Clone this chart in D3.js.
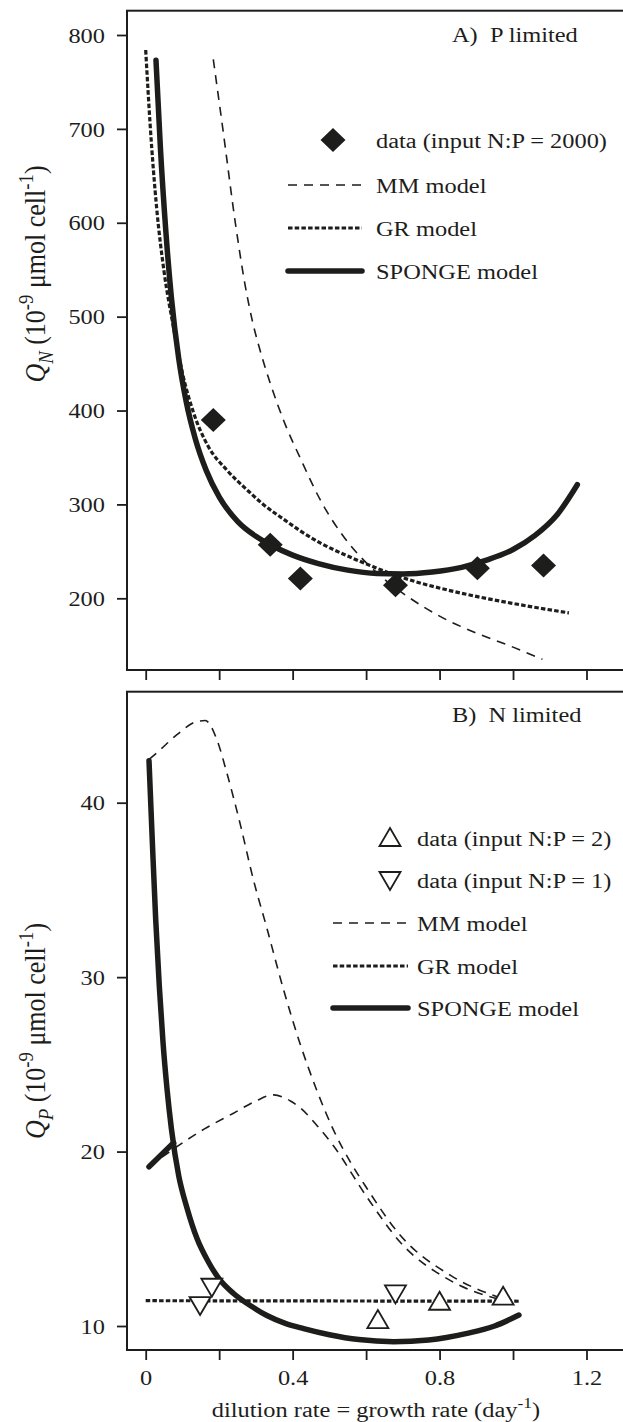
<!DOCTYPE html>
<html>
<head>
<meta charset="utf-8">
<script src="https://cdn.jsdelivr.net/npm/d3@7"></script>
<style>
  body { margin: 0; background: #fff; }
  text { font-family: "Liberation Serif", "Times New Roman", serif; fill: #1d1d1b; }
</style>
</head>
<body>
<div class="figure"></div>
<script>
// ---- data ----
var xTicks = [0, 0.2, 0.4, 0.6, 0.8, 1.0, 1.2];
var xTickLabels = ["0", "", "0.4", "", "0.8", "", "1.2"];
var yTicksA = [200, 300, 400, 500, 600, 700, 800];
var yTicksB = [10, 20, 30, 40];

// A) P limited : Q_N
var dataA_rate = [0.184, 0.339, 0.421, 0.680, 0.903, 1.083];
var dataA_QN   = [390, 257, 221, 214, 232, 235];

var mmA_rate = [0.184, 0.21, 0.244, 0.27, 0.29, 0.31, 0.34, 0.38, 0.42, 0.475, 0.54, 0.6, 0.66, 0.72, 0.8, 0.9, 1.0, 1.08];
var mmA_QN   = [774, 700, 600, 535, 496, 466, 428, 385, 350, 305, 265, 238, 217, 200, 181, 163, 148, 135];

var grA_rate = [0.0, 0.012, 0.03, 0.05, 0.075, 0.1, 0.13, 0.17, 0.22, 0.28, 0.32, 0.38, 0.42, 0.475, 0.55, 0.62, 0.68, 0.75, 0.82, 0.9, 1.0, 1.08, 1.152];
var grA_QN   = [784, 705, 615, 548, 490, 440, 398, 362, 337, 314, 300, 283, 272, 259, 245, 233.5, 224.5, 216, 209, 202, 194.5, 189, 184.5];

var spA_rate = [0.028, 0.04, 0.055, 0.07, 0.09, 0.11, 0.135, 0.165, 0.2, 0.25, 0.3, 0.339, 0.4, 0.47, 0.55, 0.63, 0.7, 0.78, 0.86, 0.93, 1.0, 1.06, 1.12, 1.175];
var spA_QN   = [773, 680, 590, 520, 455, 410, 370, 336, 308, 282, 266, 257, 246, 237, 230, 226.5, 226, 228, 233, 241, 252, 267, 289, 321];

// B) N limited : Q_P
var np2_rate = [0.632, 0.80, 0.973];
var np2_QP   = [10.34, 11.39, 11.68];
var np1_rate = [0.148, 0.18, 0.68];
var np1_QP   = [11.2, 12.25, 11.87];

var mmB1_rate = [0.01, 0.034, 0.085, 0.139, 0.162, 0.194, 0.221, 0.257, 0.293, 0.33, 0.375, 0.42, 0.466, 0.512, 0.56, 0.602, 0.693, 0.83, 0.966];
var mmB1_QP   = [42.5, 42.93, 43.9, 44.65, 44.71, 43.6, 41.7, 38.8, 35.6, 32.8, 29.3, 26.2, 23.5, 21.2, 19.3, 17.9, 15.2, 12.9, 11.6];
var mmB2_rate = [0.009, 0.085, 0.16, 0.239, 0.30, 0.348, 0.394, 0.421, 0.466, 0.512, 0.602, 0.693, 0.83, 0.966];
var mmB2_QP   = [19.13, 20.28, 21.3, 22.2, 22.9, 23.25, 22.9, 22.5, 21.5, 20.3, 17.4, 14.8, 12.6, 11.5];

var grB_rate = [0.0, 1.02];
var grB_QP   = [11.45, 11.42];

var spB1_rate = [0.009, 0.018, 0.027, 0.037, 0.047, 0.058, 0.07, 0.09, 0.112, 0.14, 0.17, 0.2, 0.24, 0.29, 0.33, 0.38, 0.43, 0.5, 0.58, 0.675, 0.77, 0.875, 0.95, 1.016];
var spB1_QP   = [42.4, 37.8, 33.4, 29.5, 26.3, 23.6, 21.3, 18.6, 16.8, 15.0, 13.7, 12.7, 11.85, 11.1, 10.6, 10.15, 9.85, 9.5, 9.22, 9.1, 9.2, 9.58, 10.0, 10.63];
var spB2_rate = [0.009, 0.076];
var spB2_QP   = [19.13, 20.5];

// ---- layout ----
var W = 623, H = 1422;
var ink = "#1d1d1b";
var SX = 1.13;              // the figure is a little wider than tall
var left = 127;

var svg = d3.select(".figure").append("svg")
  .attr("width", W)
  .attr("height", H);

var x = d3.scaleLinear().domain([0, 1.2]).range([145.7, 586.5]);
var yA = d3.scaleLinear().domain([200, 800]).range([598.3, 35]);
var yB = d3.scaleLinear().domain([10, 40]).range([1326, 802.7]);

var panels = [
  { y: yA, top: 10.7, bottom: 670, ticks: yTicksA, labels: false },
  { y: yB, top: 691.7, bottom: 1350, ticks: yTicksB, labels: true }
];

function stretch(px, py) {
  return "translate(" + px + "," + py + ") scale(" + SX + ",1)";
}

// rich text: parts with sub / sup / italic
function rich(g, parts, size) {
  var t = g.append("text").style("font-size", size + "px").style("white-space", "pre");
  var cur = 0;
  parts.forEach(function (p) {
    var off = p.sub ? 0.28 * size : p.sup ? -0.42 * size : 0;
    t.append("tspan")
      .attr("dy", off - cur)
      .style("font-size", (p.sub || p.sup ? 0.72 * size : size) + "px")
      .style("font-style", p.it ? "italic" : "normal")
      .text(p.s);
    cur = off;
  });
  return t;
}

panels.forEach(function (p) {
  var g = svg.append("g");

  // frame (right side falls outside the picture)
  g.append("rect")
    .attr("x", left).attr("y", p.top)
    .attr("width", W + 10 - left).attr("height", p.bottom - p.top)
    .attr("fill", "none").attr("stroke", ink).attr("stroke-width", 2);

  var yAxis = d3.axisLeft(p.y).tickValues(p.ticks).tickSize(10).tickSizeOuter(0);
  var ya = g.append("g").attr("transform", "translate(" + left + ",0)").call(yAxis);
  ya.select(".domain").remove();
  ya.selectAll("line").attr("stroke", ink).attr("stroke-width", 1.8);
  ya.selectAll("text")
    .attr("x", null).attr("dy", null)
    .attr("transform", stretch(-22, 7.2))
    .style("font-size", "21.6px").style("font-family", null);

  var xAxis = d3.axisBottom(x).tickValues(xTicks).tickSize(10).tickSizeOuter(0)
    .tickFormat(function (d, i) { return p.labels ? xTickLabels[i] : ""; });
  var xa = g.append("g").attr("transform", "translate(0," + p.bottom + ")").call(xAxis);
  xa.select(".domain").remove();
  xa.selectAll("line").attr("stroke", ink).attr("stroke-width", 1.8);
  xa.selectAll("text")
    .attr("y", null).attr("dy", null)
    .attr("transform", stretch(0, 35))
    .style("font-size", "21.6px").style("font-family", null);
});

function curve(yScale) {
  return d3.line()
    .x(function (d) { return x(d[0]); })
    .y(function (d) { return yScale(d[1]); })
    .curve(d3.curveMonotoneX);
}

var styles = {
  mm: { w: 1.6, dash: "9,7", cap: "butt" },
  gr: { w: 3.2, dash: "4.5,2.2", cap: "butt" },
  sp: { w: 5.5, dash: null, cap: "round" }
};

function drawLine(rates, vals, yScale, st) {
  svg.append("path")
    .datum(d3.zip(rates, vals))
    .attr("d", curve(yScale))
    .attr("fill", "none")
    .attr("stroke", ink)
    .attr("stroke-width", st.w)
    .attr("stroke-dasharray", st.dash)
    .attr("stroke-linecap", st.cap)
    .attr("stroke-linejoin", "round");
}

var diamond = "M0,-12L12.5,0L0,12L-12.5,0Z";
var triUp = "M0,-10L10.5,8L-10.5,8Z";
var triDown = "M0,10L10.5,-8L-10.5,-8Z";

// panel A curves
drawLine(mmA_rate, mmA_QN, yA, styles.mm);
drawLine(grA_rate, grA_QN, yA, styles.gr);
drawLine(spA_rate, spA_QN, yA, styles.sp);

svg.append("g").selectAll("path")
  .data(d3.zip(dataA_rate, dataA_QN))
  .join("path")
  .attr("d", diamond)
  .attr("transform", function (d) { return "translate(" + x(d[0]) + "," + yA(d[1]) + ")"; })
  .attr("fill", ink);

// panel B curves
drawLine(mmB1_rate, mmB1_QP, yB, styles.mm);
drawLine(mmB2_rate, mmB2_QP, yB, styles.mm);
drawLine(grB_rate, grB_QP, yB, styles.gr);
drawLine(spB1_rate, spB1_QP, yB, styles.sp);
drawLine(spB2_rate, spB2_QP, yB, styles.sp);

function openMarks(rates, vals, shape) {
  svg.append("g").selectAll("path")
    .data(d3.zip(rates, vals))
    .join("path")
    .attr("d", shape)
    .attr("transform", function (d) { return "translate(" + x(d[0]) + "," + yB(d[1]) + ")"; })
    .attr("fill", "#fff")
    .attr("stroke", ink)
    .attr("stroke-width", 1.8);
}
openMarks(np2_rate, np2_QP, triUp);
openMarks(np1_rate, np1_QP, triDown);

// ---- titles and legends ----
svg.append("text").attr("transform", stretch(452, 41.5)).style("font-size", "21.6px")
  .style("white-space", "pre").text("A)  P limited");
svg.append("text").attr("transform", stretch(452, 722)).style("font-size", "21.6px")
  .style("white-space", "pre").text("B)  N limited");

function legendLine(x0, x1, yy, st) {
  svg.append("line").attr("x1", x0).attr("x2", x1).attr("y1", yy).attr("y2", yy)
    .attr("stroke", ink).attr("stroke-width", st.w)
    .attr("stroke-dasharray", st.dash).attr("stroke-linecap", st.cap);
}
function legendText(tx, yy, s) {
  svg.append("text").attr("transform", stretch(tx, yy + 7.5)).style("font-size", "21.6px").text(s);
}

svg.append("path").attr("d", diamond).attr("transform", "translate(333,140)").attr("fill", ink);
legendText(376, 140, "data (input N:P = 2000)");
legendLine(288, 362, 185, styles.mm);  legendText(376, 185, "MM model");
legendLine(288, 362, 228, styles.gr);  legendText(376, 228, "GR model");
legendLine(288, 362, 271, styles.sp);  legendText(376, 271, "SPONGE model");

svg.append("path").attr("d", triUp).attr("transform", "translate(390,838)")
  .attr("fill", "#fff").attr("stroke", ink).attr("stroke-width", 1.8);
legendText(417, 838, "data (input N:P = 2)");
svg.append("path").attr("d", triDown).attr("transform", "translate(390,880)")
  .attr("fill", "#fff").attr("stroke", ink).attr("stroke-width", 1.8);
legendText(417, 880, "data (input N:P = 1)");
legendLine(333, 408, 923, styles.mm);  legendText(417, 923, "MM model");
legendLine(333, 408, 966, styles.gr);  legendText(417, 966, "GR model");
legendLine(333, 408, 1008, styles.sp); legendText(417, 1008, "SPONGE model");

// ---- axis titles ----
function yLabel(cy, sub) {
  var g = svg.append("g")
    .attr("transform", "translate(45," + cy + ") scale(" + SX + ",1) rotate(-90)");
  rich(g, [
    { s: "Q", it: true }, { s: sub, it: true, sub: true },
    { s: " (10" }, { s: "-9", sup: true },
    { s: " \u03bcmol cell" }, { s: "-1", sup: true }, { s: ")" }
  ], 26).attr("text-anchor", "middle");
}
yLabel(274, "N");
yLabel(1031, "P");

var xl = svg.append("g").attr("transform", stretch(376, 1417));
rich(xl, [{ s: "dilution rate = growth rate (day" }, { s: "-1", sup: true }, { s: ")" }], 21.6)
  .attr("text-anchor", "middle");
</script>
</body>
</html>
